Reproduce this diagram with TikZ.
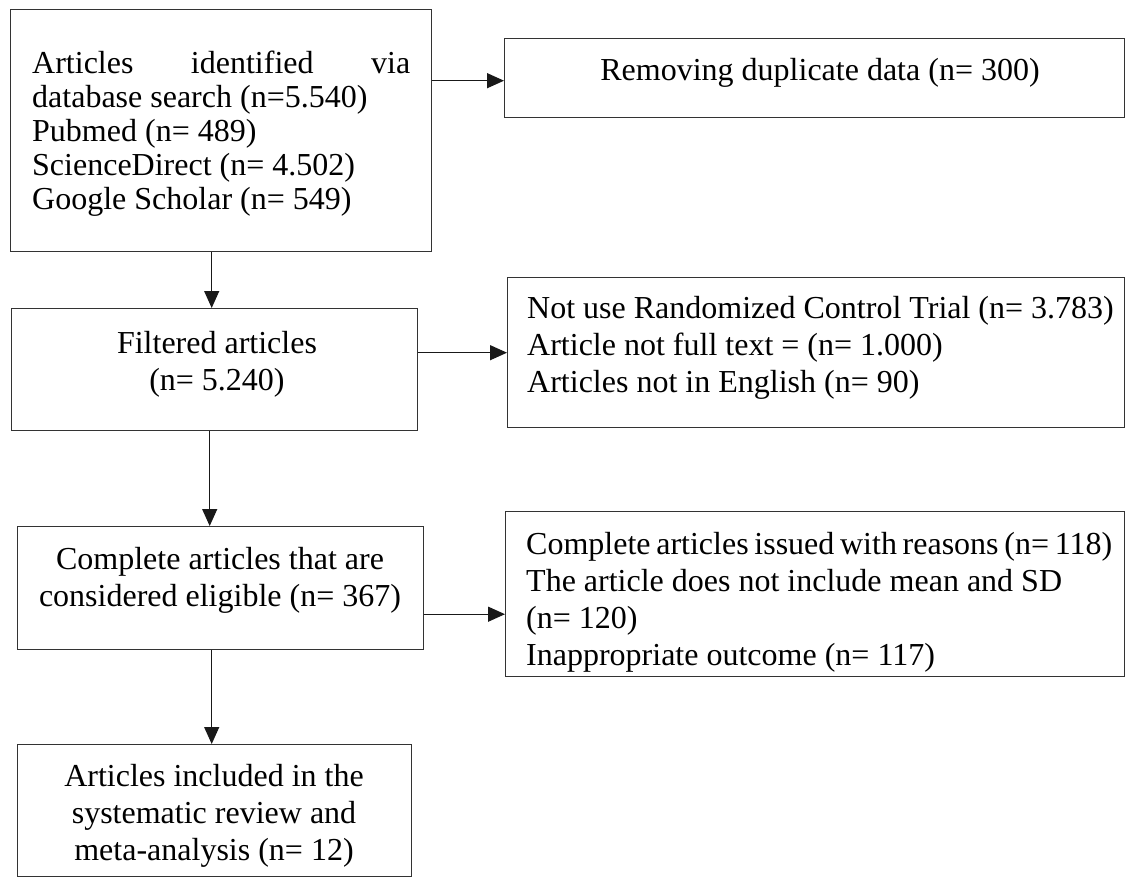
\documentclass[tikz,border=0pt]{standalone}
\usepackage{fontspec}
\setmainfont{Liberation Serif}
\usetikzlibrary{arrows.meta}
\begin{document}
\begin{tikzpicture}[x=1pt,y=-1pt,
  box/.style={draw=black!80, line width=1.4pt, anchor=north west, inner sep=0pt},
  txt/.style={inner sep=0pt, font=\fontsize{32}{37}\selectfont},
  arr/.style={draw=black!90, line width=1.3pt, -{Triangle[length=17pt,width=15pt]}}]
\useasboundingbox (0,0) rectangle (1126,877);
\clip (0,0) rectangle (1126,877);
% boxes
\node[box, minimum width=421pt, minimum height=242pt] (A) at (10,9) {};
\node[box, minimum width=620pt, minimum height=79pt] (B) at (504,38) {};
\node[box, minimum width=406pt, minimum height=122pt] (C) at (11,308) {};
\node[box, minimum width=617pt, minimum height=150pt] (D) at (507,277) {};
\node[box, minimum width=406pt, minimum height=123pt] (E) at (17,526) {};
\node[box, minimum width=619pt, minimum height=165pt] (F) at (505,511) {};
\node[box, minimum width=394pt, minimum height=132pt] (G) at (17,744) {};
% texts
\node[txt, anchor=north west] (At) at (32,50.6) {\parbox{378pt}{\fontsize{32}{34}\selectfont\raggedright\makebox[378pt][s]{Articles identified via}\\database search (n=5.540)\\Pubmed (n= 489)\\ScienceDirect (n= 4.502)\\Google Scholar (n= 549)}};
\node[txt, anchor=base] (Bt) at (820,81) {Removing duplicate data (n= 300)};
\node[txt, anchor=north, align=center] (Ct) at (217,330.6) {Filtered articles\\(n= 5.240)};
\node[txt, anchor=north west, align=left] (Dt) at (527,295.6) {Not use Randomized Control Trial (n= 3.783)\\Article not full text = (n= 1.000)\\Articles not in English (n= 90)};
\node[txt, anchor=north, align=center] (Et) at (220,546.6) {Complete articles that are\\considered eligible (n= 367)};
\node[txt, anchor=north west, align=left] (Ft) at (526,531.6) {\makebox[586pt][s]{Complete articles issued with reasons (n= 118)}\\The article does not include mean and SD\\(n= 120)\\Inappropriate outcome (n= 117)};
\node[txt, anchor=north, align=center] (Gt) at (214,763.6) {Articles included in the\\systematic review and\\meta-analysis (n= 12)};
% connectors
\coordinate (bw) at ([yshift=-2.5pt]B.west);
\draw[arr] (A.east |- bw) -- (bw);
\coordinate (as) at ([xshift=-9.5pt]A.south);
\draw[arr] (as) -- (as |- C.north);
\draw[arr] (C.east |- D.west) -- (D.west);
\coordinate (cs) at ([xshift=-5pt]C.south);
\draw[arr] (cs) -- (cs |- E.north);
\coordinate (fw) at ([yshift=-20pt]F.west);
\draw[arr] (E.east |- fw) -- (fw);
\coordinate (es) at ([xshift=-9pt]E.south);
\draw[arr] (es) -- (es |- G.north);
\end{tikzpicture}
\end{document}
